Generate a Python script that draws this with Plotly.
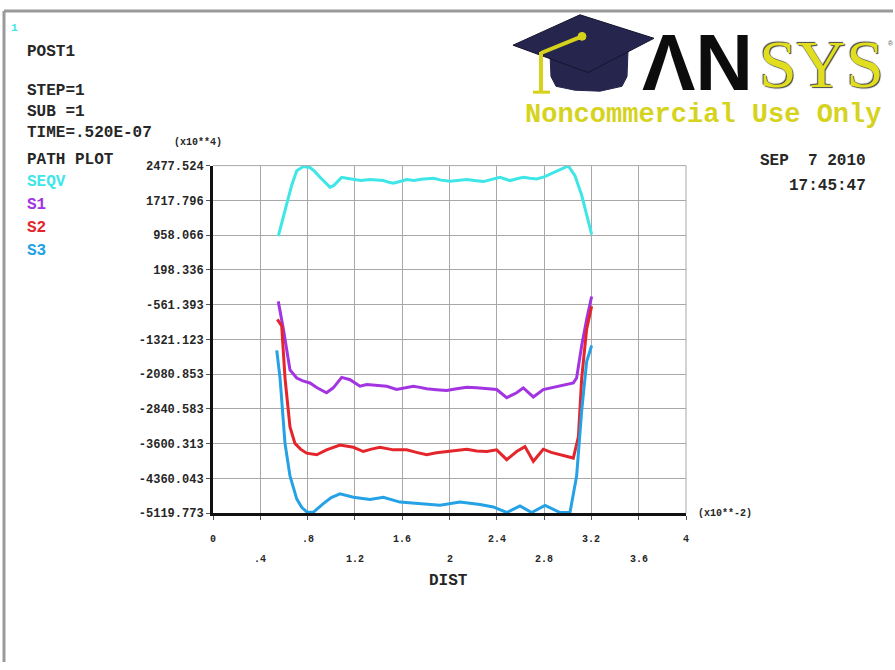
import plotly.graph_objects as go

W, H = 895, 670

# ---------------- data (DIST in x10**-2, stress in x10**4) ----------------
seqv_x = [0.552, 0.609, 0.665, 0.708, 0.764, 0.82, 0.86, 0.905, 0.95, 0.989, 1.02, 1.046, 1.088, 1.13,
          1.187, 1.25, 1.328, 1.38, 1.44, 1.48, 1.525, 1.58, 1.638, 1.70, 1.76, 1.863, 1.93, 2.004,
          2.07, 2.146, 2.21, 2.286, 2.35, 2.427, 2.47, 2.512, 2.57, 2.624, 2.68, 2.737, 2.80, 2.85,
          2.90, 2.934, 3.005, 3.061, 3.118, 3.160, 3.202]
seqv_y = [937, 1472, 2043, 2364, 2456, 2435, 2350, 2221, 2100, 2007, 2040, 2114, 2221, 2200,
          2171, 2150, 2171, 2160, 2150, 2120, 2092, 2130, 2171, 2150, 2180, 2199, 2160, 2135,
          2155, 2171, 2150, 2128, 2170, 2221, 2185, 2150, 2190, 2221, 2200, 2185, 2230, 2292,
          2350, 2399, 2470, 2257, 1829, 1400, 973]

s1_x = [0.552, 0.595, 0.651, 0.708, 0.76, 0.82, 0.88, 0.96, 1.017, 1.088, 1.159, 1.243, 1.30, 1.384,
        1.469, 1.553, 1.62, 1.694, 1.75, 1.807, 1.89, 1.976, 2.06, 2.146, 2.23, 2.315, 2.399, 2.484,
        2.568, 2.624, 2.709, 2.793, 2.86, 2.934, 3.0, 3.047, 3.075, 3.118, 3.16, 3.202]
s1_y = [-490, -1096, -1989, -2166, -2230, -2273, -2380, -2488, -2380, -2152, -2203, -2345, -2310, -2324,
        -2345, -2417, -2380, -2345, -2370, -2402, -2420, -2438, -2400, -2366, -2380, -2395, -2417, -2595,
        -2488, -2380, -2580, -2417, -2380, -2345, -2300, -2273, -2166, -1454, -882, -384]

s2_x = [0.544, 0.581, 0.609, 0.651, 0.693, 0.74, 0.792, 0.877, 0.96, 1.074, 1.187, 1.271, 1.34, 1.412,
        1.525, 1.638, 1.72, 1.807, 1.89, 1.976, 2.06, 2.146, 2.23, 2.315, 2.399, 2.484, 2.568, 2.638,
        2.709, 2.793, 2.86, 2.934, 3.047, 3.09, 3.118, 3.16, 3.202]
s2_y = [-882, -1025, -2166, -3236, -3594, -3720, -3808, -3843, -3736, -3629, -3679, -3772, -3720, -3679,
        -3736, -3736, -3790, -3843, -3800, -3772, -3740, -3722, -3760, -3772, -3736, -3950, -3772, -3665,
        -3986, -3722, -3790, -3843, -3915, -3450, -2166, -1096, -598]

s3_x = [0.539, 0.567, 0.609, 0.651, 0.708, 0.75, 0.792, 0.848, 0.933, 1.0, 1.074, 1.187, 1.328, 1.44,
        1.581, 1.75, 1.92, 2.089, 2.258, 2.37, 2.484, 2.596, 2.695, 2.808, 2.934, 3.019, 3.075, 3.118,
        3.16, 3.202]
s3_y = [-1561, -2166, -3594, -4307, -4806, -4990, -5092, -5100, -4912, -4780, -4698, -4771, -4820, -4771,
        -4878, -4912, -4948, -4878, -4930, -4984, -5105, -4963, -5105, -4948, -5105, -5105, -4307, -2879,
        -1808, -1454]

y_tick_labels = ["2477.524", "1717.796", "958.066", "198.336", "-561.393", "-1321.123",
                 "-2080.853", "-2840.583", "-3600.313", "-4360.043", "-5119.773"]
x_tick_upper = ["0", ".8", "1.6", "2.4", "3.2", "4"]
x_tick_lower = [".4", "1.2", "2", "2.8", "3.6"]

series_names = ["SEQV", "S1", "S2", "S3"]
series_colors = ["#3ee6e8", "#a234e2", "#e4262c", "#25a2e6"]

# ---------------- layout helpers ----------------
PL, PR, PT, PB = 213, 686, 163, 518


def px(x, y):
    return x / W, 1 - y / H


def path_from(points):
    pts = [px(a, b) for a, b in points]
    s = "M %.5f %.5f " % pts[0]
    for p in pts[1:]:
        s += "L %.5f %.5f " % p
    return s + "Z"


MONO = "Liberation Mono"
TXT = "#262626"

fig = go.Figure()
for xs, ys, name, col in zip([seqv_x, s1_x, s2_x, s3_x], [seqv_y, s1_y, s2_y, s3_y],
                             series_names, series_colors):
    fig.add_trace(go.Scatter(x=xs, y=ys, mode="lines", name=name,
                             line=dict(color=col, width=3), showlegend=False))

yvals = [float(t) for t in y_tick_labels]
fig.update_layout(
    width=W, height=H, margin=dict(l=0, r=0, t=0, b=0),
    paper_bgcolor="white", plot_bgcolor="white",
    xaxis=dict(domain=[PL / W, PR / W], range=[0, 4], tickvals=[i * 0.4 for i in range(11)],
               showticklabels=False, ticks="outside", ticklen=4, tickcolor="#555",
               showgrid=True, gridcolor="#a8a8a8", gridwidth=1, zeroline=False,
               showline=True, linecolor="#111", linewidth=3),
    yaxis=dict(domain=[1 - PB / H, 1 - PT / H], range=[yvals[-1], yvals[0]],
               tickvals=yvals, ticktext=y_tick_labels, ticks="outside", ticklen=4, tickcolor="#555",
               tickfont=dict(family=MONO, size=12, color=TXT, weight="bold"),
               showgrid=True, gridcolor="#a8a8a8", gridwidth=1, zeroline=False,
               showline=True, linecolor="#111", linewidth=3),
)

shapes = []
# plot frame top / right edges (grey)
shapes.append(dict(type="line", xref="paper", yref="paper", x0=PL / W, x1=PR / W,
                   y0=1 - PT / H, y1=1 - PT / H, line=dict(color="#a8a8a8", width=1)))
shapes.append(dict(type="line", xref="paper", yref="paper", x0=PR / W, x1=PR / W,
                   y0=1 - PT / H, y1=1 - PB / H, line=dict(color="#a8a8a8", width=1)))
# window border
shapes.append(dict(type="line", xref="paper", yref="paper", x0=4 / W, x1=893 / W,
                   y0=1 - 5 / H, y1=1 - 5 / H, line=dict(color="#9a9a9a", width=3)))
shapes.append(dict(type="line", xref="paper", yref="paper", x0=4 / W, x1=4 / W,
                   y0=1 - 5 / H, y1=0, line=dict(color="#9a9a9a", width=3)))
# ANSYS logo: graduation cap
cap_dark = "#25254e"
shapes.append(dict(type="path", xref="paper", yref="paper",
                   path=path_from([(550, 50), (551, 72), (556, 82), (575, 86), (600, 87), (622, 82),
                                   (627, 72), (628, 46)]),
                   fillcolor=cap_dark, line=dict(color=cap_dark, width=1)))
shapes.append(dict(type="path", xref="paper", yref="paper",
                   path=path_from([(513, 40), (580, 9), (654, 33), (588, 68)]),
                   fillcolor=cap_dark, line=dict(color="#15152e", width=1)))
tassel = "#d6d21c"
shapes.append(dict(type="line", xref="paper", yref="paper",
                   x0=582 / W, y0=1 - 31 / H, x1=541 / W, y1=1 - 48 / H, line=dict(color=tassel, width=4)))
shapes.append(dict(type="line", xref="paper", yref="paper",
                   x0=541 / W, y0=1 - 47 / H, x1=541 / W, y1=1 - 88 / H, line=dict(color=tassel, width=4)))
shapes.append(dict(type="line", xref="paper", yref="paper",
                   x0=533 / W, y0=1 - 88 / H, x1=550 / W, y1=1 - 88 / H, line=dict(color=tassel, width=3)))
shapes.append(dict(type="circle", xref="paper", yref="paper",
                   x0=578 / W, y0=1 - 27 / H, x1=586 / W, y1=1 - 35 / H,
                   fillcolor=tassel, line=dict(color=tassel, width=1)))
fig.update_layout(shapes=shapes)

ann = []


def text(x, y, s, size=16, color=TXT, family=MONO, xanchor="left", yanchor="middle", **kw):
    a, b = px(x, y)
    ann.append(dict(xref="paper", yref="paper", x=a, y=b, text=s, showarrow=False,
                    xanchor=xanchor, yanchor=yanchor,
                    font=dict(family=family, size=size, color=color, **kw)))


text(9, 22, "1", size=11, color="#3ee6e8", weight="bold")
text(25, 47, "POST1", size=16, weight="bold")
text(25, 87, "STEP=1", size=16, weight="bold")
text(25, 108, "SUB =1", size=16, weight="bold")
text(25, 130, "TIME=.520E-07", size=16, weight="bold")
text(172, 139, "(x10**4)", size=10, weight="bold")
text(25, 157, "PATH PLOT", size=16, weight="bold")
for i, (nm, col) in enumerate(zip(series_names, series_colors)):
    text(25, 180 + i * 23.5, nm, size=16, color=col, weight="bold")
text(868, 158, "SEP  7 2010", size=16, xanchor="right", weight="bold")
text(868, 184, "17:45:47", size=16, xanchor="right", weight="bold")
text(696, 518, "(x10**-2)", size=10, weight="bold")
text(448, 587, "DIST", size=16, xanchor="center", weight="bold")

# staggered x tick labels (placed at data x positions)
for i, t in enumerate(x_tick_upper):
    ann.append(dict(xref="x", yref="paper", x=i * 0.8, y=1 - 545 / H, text=t, showarrow=False,
                    xanchor="center", yanchor="middle",
                    font=dict(family=MONO, size=10, color=TXT, weight="bold")))
for i, t in enumerate(x_tick_lower):
    ann.append(dict(xref="x", yref="paper", x=0.4 + i * 0.8, y=1 - 565 / H, text=t, showarrow=False,
                    xanchor="center", yanchor="middle",
                    font=dict(family=MONO, size=10, color=TXT, weight="bold")))

# logo texts
text(640, 58, "ΛN", size=80, color="#0c0c0c", family="Liberation Sans", weight="bold")
text(757, 59, "SYS", size=68, color="#e0de1e", family="Liberation Serif",
     shadow="1px 1px 1px #444, -1px -1px 1px #444")
text(886, 38, "®", size=8, color="#777")
text(523, 111, "Noncommercial Use Only", size=27, color="#d6d31e", weight="bold")

fig.update_layout(annotations=ann)
fig.write_html("out.html", config={"displayModeBar": False},
               post_script="document.body.style.margin='0';document.body.style.overflow='hidden';")
